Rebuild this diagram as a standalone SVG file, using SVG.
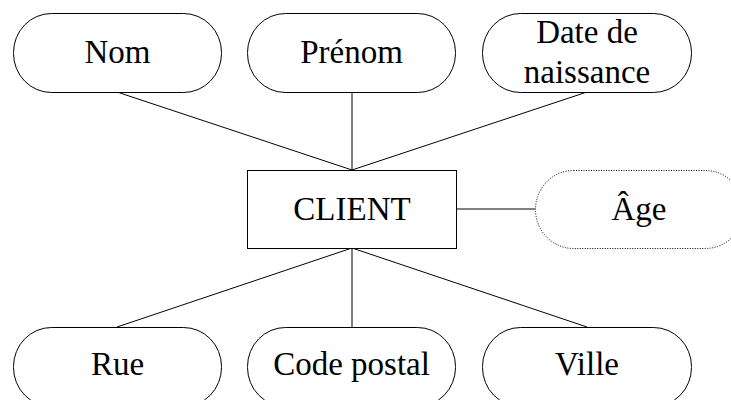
<svg xmlns="http://www.w3.org/2000/svg" width="731" height="400" viewBox="0 0 731 400">
<style>
.n{fill:#fff;stroke:#000;stroke-width:1}
.d{fill:#fff;stroke:#000;stroke-width:1;stroke-dasharray:1 1.5}
text{font-family:"Liberation Serif","Times New Roman",Times,serif;font-size:33px;fill:#000;text-anchor:middle}
.c line{stroke:#000;stroke-width:1}
</style>
<rect width="731" height="400" fill="#fff"/>
<g id="connectors" class="c">
<line x1="117" y1="92" x2="352" y2="170"/>
<line x1="352" y1="92" x2="352" y2="170"/>
<line x1="587" y1="92" x2="352" y2="170"/>
<line x1="457" y1="209" x2="535" y2="209"/>
<line x1="352" y1="248" x2="117" y2="327"/>
<line x1="352" y1="248" x2="352" y2="327"/>
<line x1="352" y1="248" x2="587" y2="327"/>
</g>
<g id="nom"><rect class="n" x="13.5" y="13.5" width="208" height="79" rx="38" ry="39"/><text x="117.5" y="63">Nom</text></g>
<g id="prenom"><rect class="n" x="247.5" y="13.5" width="208" height="79" rx="38" ry="39"/><text x="351.5" y="63">Prénom</text></g>
<g id="date"><rect class="n" x="482.5" y="13.5" width="209" height="79" rx="38" ry="39"/><text x="587" y="43">Date de</text><text x="587" y="83">naissance</text></g>
<g id="client"><rect class="n" x="247.5" y="170.5" width="209" height="78"/><text x="352" y="220">CLIENT</text></g>
<g id="age"><rect class="d" x="535.5" y="170.5" width="208" height="78" rx="38" ry="39"/><text x="639" y="220">Âge</text></g>
<g id="rue"><rect class="n" x="13.5" y="327.5" width="208" height="79" rx="38" ry="39"/><text x="117.5" y="375">Rue</text></g>
<g id="codepostal"><rect class="n" x="247.5" y="327.5" width="208" height="79" rx="38" ry="39"/><text x="351.5" y="375">Code postal</text></g>
<g id="ville"><rect class="n" x="482.5" y="327.5" width="209" height="79" rx="38" ry="39"/><text x="587" y="375">Ville</text></g>
</svg>
